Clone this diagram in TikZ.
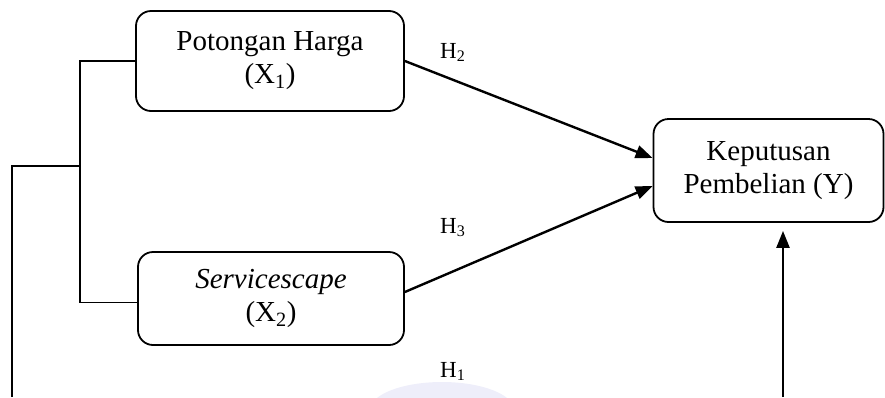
\documentclass[tikz,border=0pt]{standalone}
\usepackage{fontspec}
\setmainfont{Liberation Serif}
\usetikzlibrary{arrows.meta,calc}
\definecolor{wmark}{RGB}{238,238,250}
\begin{document}
\begin{tikzpicture}[x=1pt,y=-1pt,
  varbox/.style={draw,line width=1.8pt,rounded corners=15pt,align=center,
    inner sep=0pt,font=\fontsize{29}{33}\selectfont},
  hlabel/.style={anchor=base west,inner sep=0pt,font=\fontsize{23}{26}\selectfont},
  path/.style={line width=2.4pt,-{Triangle[length=17pt,width=13pt]}},
  link/.style={line width=1.5pt}]
\useasboundingbox (0,0) rectangle (885,397);
\fill[wmark] (442,410) ellipse [x radius=72pt, y radius=28pt];
\node[varbox,minimum width=268pt,minimum height=100pt] (box1) at (270,61)
  {Potongan Harga\\(X\textsubscript{1})};
\node[varbox,minimum width=266pt,minimum height=93pt] (box2) at (271,298.5)
  {\textit{Servicescape}\\(X\textsubscript{2})};
\node[varbox,minimum width=230pt,minimum height=103pt] (box3) at (768.5,170.5)
  {Keputusan\\Pembelian (Y)};
\coordinate (bx) at (80,166);
\coordinate (lb) at (12,397);
\coordinate (rb) at (783,397);
\draw[link] (box1.west) -| (bx) |- ([yshift=-4pt]box2.west);
\draw[link] (lb) |- (bx);
\draw[path] (box1.east) -- ([yshift=12.5pt]box3.west);
\draw[path] ([yshift=6.5pt]box2.east) -- ([yshift=-15.5pt]box3.west);
\draw[path,shorten >=8pt] (rb) -- (rb |- box3.south);
\node[hlabel] (h2) at (440,58) {H\textsubscript{2}};
\node[hlabel] (h3) at (440,233) {H\textsubscript{3}};
\node[hlabel] (h1) at (440,377) {H\textsubscript{1}};
\end{tikzpicture}
\end{document}
